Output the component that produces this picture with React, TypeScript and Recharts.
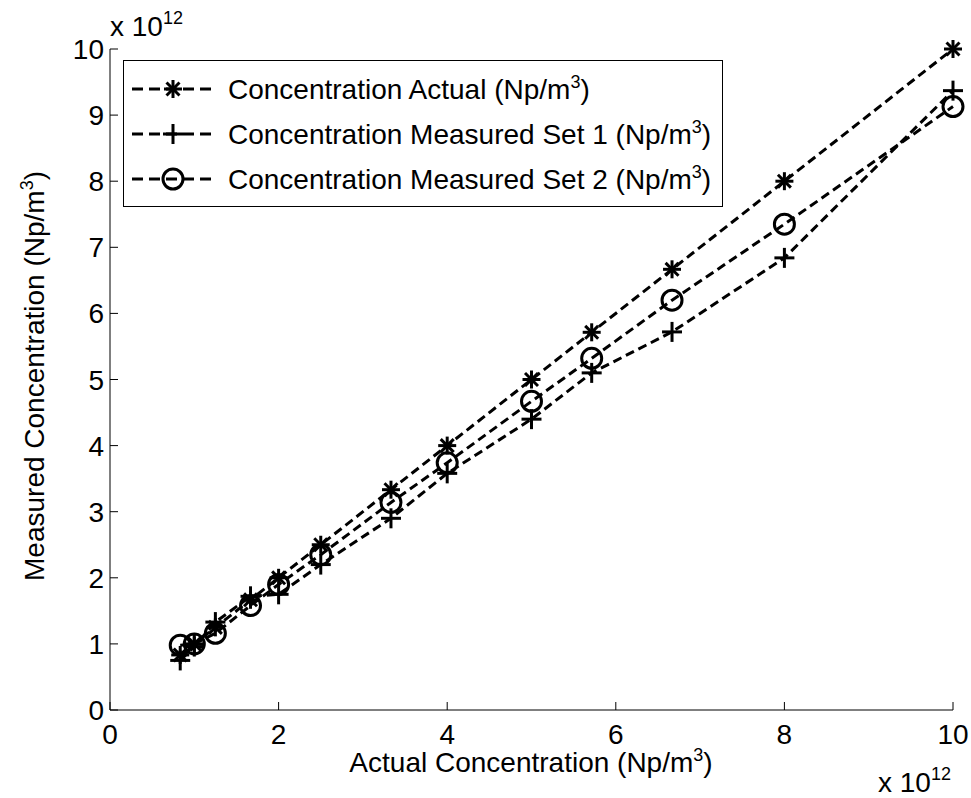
import { ComposedChart, Legend, Line, XAxis, YAxis } from "recharts";

// values are in units of 10^12 Np/m^3
const actualConc = [0.833, 1.0, 1.25, 1.667, 2.0, 2.5, 3.333, 4.0, 5.0, 5.714, 6.667, 8.0, 10.0];
const measuredSet1 = [0.75, 0.96, 1.33, 1.72, 1.75, 2.2, 2.9, 3.58, 4.4, 5.1, 5.72, 6.84, 9.37];
const measuredSet2 = [0.98, 1.0, 1.16, 1.58, 1.9, 2.35, 3.14, 3.74, 4.67, 5.32, 6.2, 7.35, 9.13];

const xTicks = [0, 2, 4, 6, 8, 10];
const yTicks = [0, 1, 2, 3, 4, 5, 6, 7, 8, 9, 10];

const seriesNames = [
  "Concentration Actual",
  "Concentration Measured Set 1",
  "Concentration Measured Set 2",
];
const markerKinds = ["star", "plus", "circle"];

const FONT = "'Liberation Sans', Arial, sans-serif";
const FS = 28;
const DASH = "9 5";

const data = actualConc.map((x, i) => ({
  x,
  actual: actualConc[i],
  set1: measuredSet1[i],
  set2: measuredSet2[i],
}));

function Marker({ kind, cx, cy }: { kind: string; cx: number; cy: number }) {
  if (kind === "star") {
    const r = 9;
    const d = r * 0.72;
    return (
      <g stroke="#000" strokeWidth={3}>
        <line x1={cx - r} y1={cy} x2={cx + r} y2={cy} />
        <line x1={cx} y1={cy - r} x2={cx} y2={cy + r} />
        <line x1={cx - d} y1={cy - d} x2={cx + d} y2={cy + d} />
        <line x1={cx - d} y1={cy + d} x2={cx + d} y2={cy - d} />
      </g>
    );
  }
  if (kind === "plus") {
    const r = 10;
    return (
      <g stroke="#000" strokeWidth={3}>
        <line x1={cx - r} y1={cy} x2={cx + r} y2={cy} />
        <line x1={cx} y1={cy - r} x2={cx} y2={cy + r} />
      </g>
    );
  }
  return <circle cx={cx} cy={cy} r={10} fill="none" stroke="#000" strokeWidth={3} />;
}

function XTick({ x, y, payload }: any) {
  return (
    <g>
      <line x1={x} y1={y} x2={x} y2={y - 8} stroke="#000" strokeWidth={1} />
      <text x={x} y={y + 34} textAnchor="middle" fontSize={FS} fontFamily={FONT} fill="#000">
        {payload.value}
      </text>
    </g>
  );
}

function YTick({ x, y, payload }: any) {
  return (
    <g>
      <line x1={x} y1={y} x2={x + 8} y2={y} stroke="#000" strokeWidth={1} />
      <text x={x - 6} y={y + 10} textAnchor="end" fontSize={FS} fontFamily={FONT} fill="#000">
        {payload.value}
      </text>
    </g>
  );
}

function LegendBox() {
  return (
    <svg width={600} height={147} style={{ display: "block" }}>
      <rect x={0.5} y={0.5} width={599} height={146} fill="#fff" stroke="#000" strokeWidth={1} />
      {seriesNames.map((name, i) => {
        const cy = 29 + i * 45;
        return (
          <g key={name}>
            <line x1={9} x2={92} y1={cy} y2={cy} stroke="#000" strokeWidth={3} strokeDasharray="11 6" />
            <Marker kind={markerKinds[i]} cx={50} cy={cy} />
            <text x={105} y={cy + 10} fontSize={FS} fontFamily={FONT} fill="#000">
              {name} (Np/m
              <tspan dy={-11} fontSize={18}>3</tspan>
              <tspan dy={11}>)</tspan>
            </text>
          </g>
        );
      })}
    </svg>
  );
}

export default function App() {
  return (
    <div style={{ position: "absolute", left: 0, top: 0, width: 971, height: 798, background: "#fff" }}>
      <ComposedChart
        width={971}
        height={798}
        data={data}
        margin={{ top: 49, right: 18, bottom: 0, left: 0 }}
      >
        <XAxis
          xAxisId="b"
          dataKey="x"
          type="number"
          domain={[0, 10]}
          ticks={xTicks}
          height={88}
          tickSize={0}
          tickMargin={0}
          tickLine={false}
          axisLine={{ stroke: "#000", strokeWidth: 1 }}
          tick={<XTick />}
          interval={0}
        />
        <XAxis
          xAxisId="t"
          orientation="top"
          type="number"
          domain={[0, 10]}
          ticks={xTicks}
          height={0}
          mirror
          tick={false}
          tickSize={8}
          tickLine={{ stroke: "#000" }}
          axisLine={{ stroke: "#000", strokeWidth: 1 }}
        />
        <YAxis
          yAxisId="l"
          type="number"
          domain={[0, 10]}
          ticks={yTicks}
          width={110}
          tickSize={0}
          tickMargin={0}
          tickLine={false}
          axisLine={{ stroke: "#000", strokeWidth: 1 }}
          tick={<YTick />}
          interval={0}
        />
        <YAxis
          yAxisId="r"
          orientation="right"
          type="number"
          domain={[0, 10]}
          ticks={yTicks}
          width={0}
          mirror
          tick={false}
          tickSize={8}
          tickLine={{ stroke: "#000" }}
          axisLine={{ stroke: "#000", strokeWidth: 1 }}
        />
        <Legend
          verticalAlign="middle"
          align="center"
          content={() => <LegendBox />}
          wrapperStyle={{ position: "absolute", left: 123, top: 60, width: 600, height: 147 }}
        />
        <Line
          xAxisId="b"
          yAxisId="l"
          dataKey="actual"
          stroke="#000"
          strokeWidth={3}
          strokeDasharray={DASH}
          isAnimationActive={false}
          activeDot={false}
          dot={(p: any) => <Marker key={`a${p.index}`} kind="star" cx={p.cx} cy={p.cy} />}
        />
        <Line
          xAxisId="b"
          yAxisId="l"
          dataKey="set1"
          stroke="#000"
          strokeWidth={3}
          strokeDasharray={DASH}
          isAnimationActive={false}
          activeDot={false}
          dot={(p: any) => <Marker key={`p${p.index}`} kind="plus" cx={p.cx} cy={p.cy} />}
        />
        <Line
          xAxisId="b"
          yAxisId="l"
          dataKey="set2"
          stroke="#000"
          strokeWidth={3}
          strokeDasharray={DASH}
          isAnimationActive={false}
          activeDot={false}
          dot={(p: any) => <Marker key={`c${p.index}`} kind="circle" cx={p.cx} cy={p.cy} />}
        />
      </ComposedChart>
      <svg
        width={971}
        height={798}
        style={{ position: "absolute", left: 0, top: 0, pointerEvents: "none" }}
        fontFamily={FONT}
        fill="#000"
      >
        <text x={110} y={36} fontSize={FS}>
          x 10<tspan dy={-12} fontSize={18}>12</tspan>
        </text>
        <text x={878} y={792} fontSize={FS}>
          x 10<tspan dy={-12} fontSize={18}>12</tspan>
        </text>
        <text x={531} y={772} fontSize={FS} textAnchor="middle">
          Actual Concentration (Np/m<tspan dy={-11} fontSize={18}>3</tspan>
          <tspan dy={11}>)</tspan>
        </text>
        <text x={44} y={376} fontSize={FS} textAnchor="middle" transform="rotate(-90 44 376)">
          Measured Concentration (Np/m<tspan dy={-11} fontSize={18}>3</tspan>
          <tspan dy={11}>)</tspan>
        </text>
      </svg>
    </div>
  );
}
